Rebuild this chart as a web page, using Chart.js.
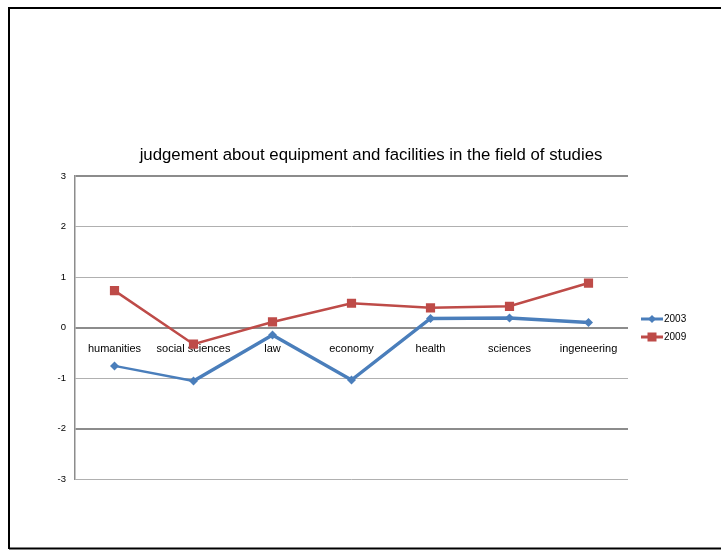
<!DOCTYPE html>
<html>
<head>
<meta charset="utf-8">
<script src="https://cdn.jsdelivr.net/npm/chart.js@4"></script>
<style>
  html, body { margin: 0; padding: 0; background: #fff; }
  #wrap { width: 721px; height: 550px; position: relative; }
</style>
</head>
<body>
<div id="wrap"><canvas id="chart" width="721" height="550"></canvas></div>
<script>
// values
const fields = ["humanities", "social sciences", "law", "economy", "health", "sciences", "ingeneering"]
const values2003 = [-0.76, -1.06, -0.15, -1.04, 0.18, 0.19, 0.10]
const values2009 = [0.73, -0.33, 0.11, 0.48, 0.39, 0.42, 0.88]
const seriesNames = ["2003", "2009"]
const chartTitle = "judgement about equipment and facilities in the field of studies"

const blue = "#4A7EBB"
const red = "#BE4B48"

// border, title and legend drawn the way the spreadsheet export looks
const decorPlugin = {
    id: "decor",
    afterDraw(chart) {
        const ctx = chart.ctx
        ctx.save()
        ctx.strokeStyle = "#000"
        ctx.lineWidth = 2
        ctx.beginPath()
        ctx.moveTo(9, 549)
        ctx.lineTo(9, 8)
        ctx.lineTo(725, 8)
        ctx.moveTo(9, 548.5)
        ctx.lineTo(725, 548.5)
        ctx.stroke()

        ctx.fillStyle = "#000"
        ctx.font = "16.8px 'Liberation Sans', Arial, sans-serif"
        ctx.textAlign = "center"
        ctx.textBaseline = "middle"
        ctx.fillText(chartTitle, 371, 155)

        // legend
        ctx.font = "10px 'Liberation Sans', Arial, sans-serif"
        ctx.textAlign = "left"
        chart.data.datasets.forEach((ds, i) => {
            const y = 319 + i * 18
            ctx.strokeStyle = ds.borderColor
            ctx.lineWidth = 3
            ctx.beginPath()
            ctx.moveTo(641, y)
            ctx.lineTo(663, y)
            ctx.stroke()
            ctx.fillStyle = ds.borderColor
            if (ds.pointStyle === "rectRot") {
                ctx.beginPath()
                ctx.moveTo(652, y - 4)
                ctx.lineTo(656, y)
                ctx.lineTo(652, y + 4)
                ctx.lineTo(648, y)
                ctx.closePath()
                ctx.fill()
            } else {
                ctx.fillRect(647.5, y - 4.5, 9, 9)
            }
            ctx.fillStyle = "#000"
            ctx.fillText(ds.label, 664, y + 0.5)
        })
        ctx.restore()
    }
}

function makeChart() {
    const canvas = document.getElementById("chart")
    return new Chart(canvas, {
        type: "line",
        data: {
            labels: fields,
            datasets: [
                {
                    label: seriesNames[0],
                    data: values2003,
                    borderColor: blue,
                    backgroundColor: blue,
                    borderWidth: 3.5,
                    pointStyle: "rectRot",
                    pointRadius: 4.5,
                    pointBorderWidth: 0,
                    pointHoverRadius: 4.5,
                    tension: 0,
                    segment: {
                        borderWidth: c => c.p0DataIndex === 0 ? 2.5 : 3.5
                    }
                },
                {
                    label: seriesNames[1],
                    data: values2009,
                    borderColor: red,
                    backgroundColor: red,
                    borderWidth: 2.5,
                    pointStyle: "rect",
                    pointRadius: 6.5,
                    pointBorderWidth: 0,
                    pointHoverRadius: 6.5,
                    tension: 0
                }
            ]
        },
        options: {
            responsive: false,
            animation: false,
            devicePixelRatio: 1,
            layout: { padding: { left: 40, top: 176, right: 93, bottom: 71 } },
            plugins: {
                legend: { display: false },
                title: { display: false },
                tooltip: { enabled: false }
            },
            scales: {
                x: {
                    type: "category",
                    position: { y: 0 },
                    offset: true,
                    grid: { display: false, drawTicks: false },
                    border: { display: false },
                    ticks: {
                        padding: 15,
                        color: "#000",
                        maxRotation: 0,
                        autoSkip: false,
                        font: { family: "'Liberation Sans', Arial, sans-serif", size: 11 }
                    }
                },
                y: {
                    min: -3,
                    max: 3,
                    afterFit: scale => { scale.width = 35 },
                    grid: {
                        drawTicks: false,
                        color: c => [3, 0, -2].includes(c.tick.value) ? "#8c8c8c" : "#b0b0b0",
                        lineWidth: c => [3, 0, -2].includes(c.tick.value) ? 2 : 1
                    },
                    border: { display: true, color: "#8c8c8c", width: 1.5 },
                    ticks: {
                        stepSize: 1,
                        padding: 9,
                        color: "#000",
                        font: { family: "'Liberation Sans', Arial, sans-serif", size: 9.5 }
                    }
                }
            }
        },
        plugins: [decorPlugin]
    })
}

const fieldChart = makeChart()
</script>
</body>
</html>
